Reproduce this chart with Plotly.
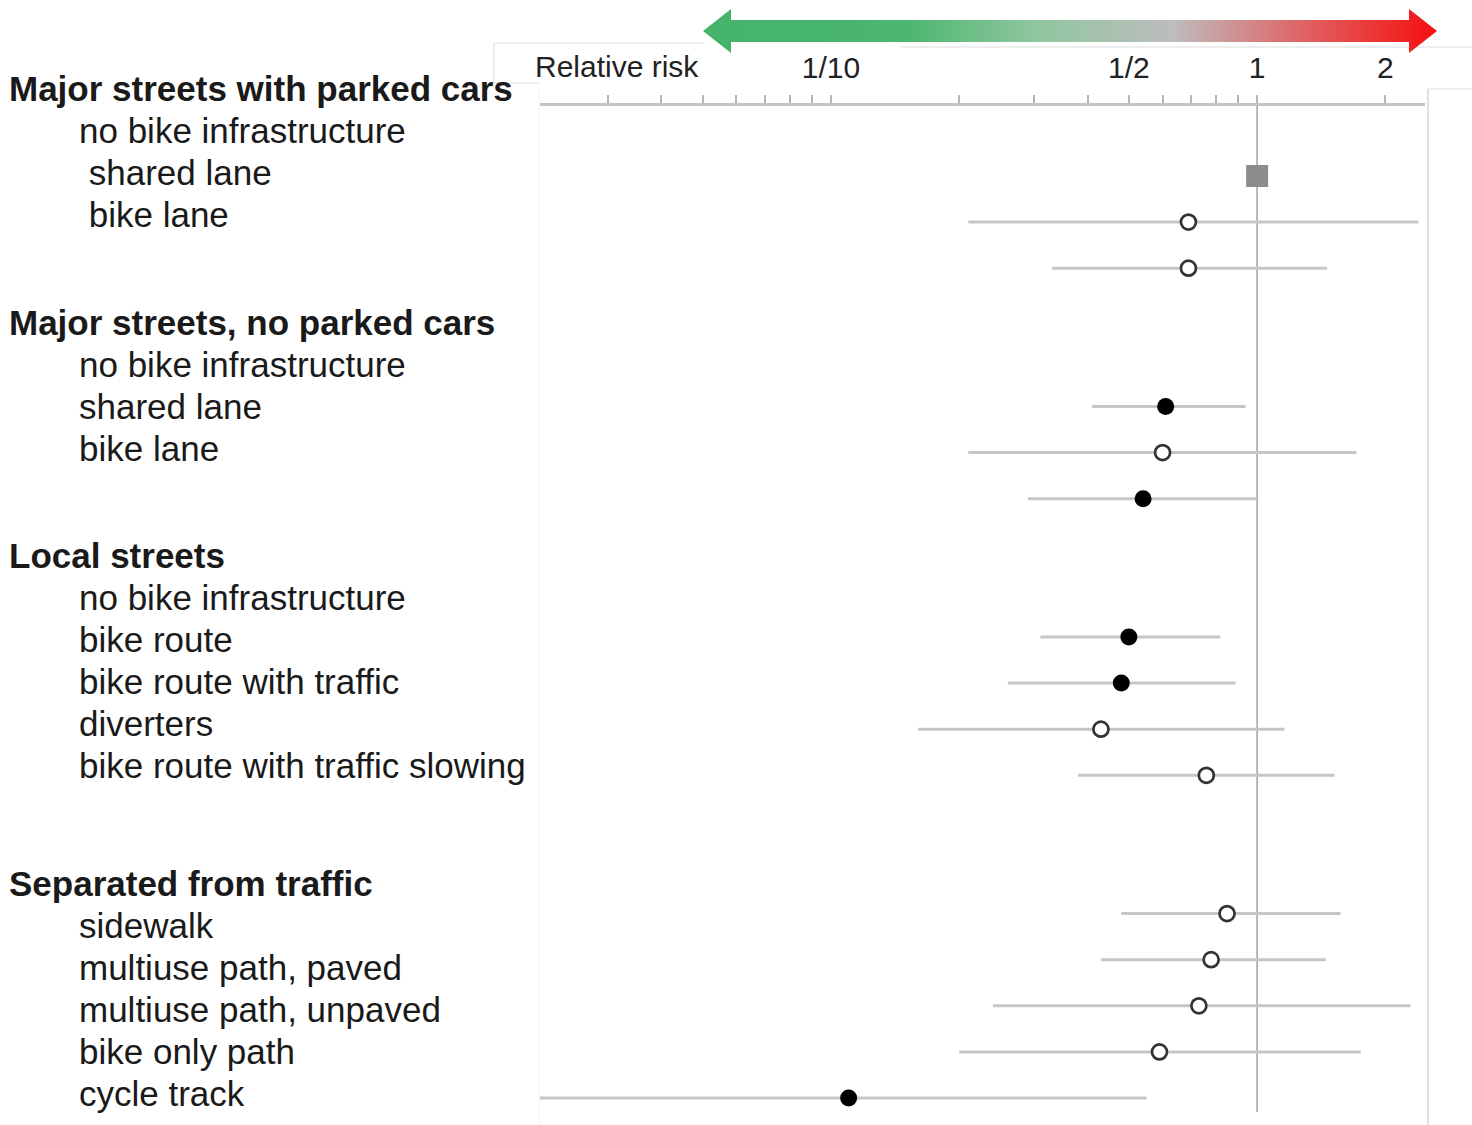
import base64
import plotly.graph_objects as go

# ---------------- data ----------------
groups = [
    "Major streets with parked cars",
    "Major streets, no parked cars",
    "Local streets",
    "Separated from traffic",
]
categories = [
    "no bike infrastructure", "shared lane", "bike lane",
    "no bike infrastructure", "shared lane", "bike lane",
    "no bike infrastructure", "bike route", "bike route with traffic diverters",
    "bike route with traffic slowing",
    "sidewalk", "multiuse path, paved", "multiuse path, unpaved", "bike only path", "cycle track",
]
category_group = [0, 0, 0, 1, 1, 1, 2, 2, 2, 2, 3, 3, 3, 3, 3]
relative_risk = [1.00, 0.69, 0.69, 0.61, 0.60, 0.54, 0.50, 0.48, 0.43, 0.76, 0.85, 0.78, 0.73, 0.59, 0.11]
ci_low = [None, 0.21, 0.33, 0.41, 0.21, 0.29, 0.31, 0.26, 0.16, 0.38, 0.48, 0.43, 0.24, 0.20, 0.02]
ci_high = [None, 2.39, 1.46, 0.94, 1.71, 1.00, 0.82, 0.89, 1.16, 1.52, 1.57, 1.45, 2.29, 1.75, 0.55]
marker_kind = ["reference", "open", "open", "filled", "open", "filled", "filled", "filled",
               "open", "open", "open", "open", "open", "open", "filled"]

# label column (as laid out in the original, one list per group)
group_label_lines = [
    ["no bike infrastructure", "\u00a0shared lane", "\u00a0bike lane"],
    ["no bike infrastructure", "shared lane", "bike lane"],
    ["no bike infrastructure", "bike route", "bike route with traffic", "diverters",
     "bike route with traffic slowing"],
    ["sidewalk", "multiuse path, paved", "multiuse path, unpaved", "bike only path", "cycle track"],
]

tick_vals = [0.03, 0.04, 0.05, 0.06, 0.07, 0.08, 0.09, 0.1, 0.2, 0.3, 0.4, 0.5,
             0.6, 0.7, 0.8, 0.9, 1, 2]
tick_text = ["", "", "", "", "", "", "", "1/10", "", "", "", "1/2", "", "", "", "", "1", "2"]
axis_title = "Relative risk"

# ---------------- layout helpers ----------------
W, H = 1472, 1125
L, R, T, B = 540, 47, 106, 10
PW, PH = W - L - R, H - T - B
ROW = 46.1
ROW0_PX = 176


def px(x):
    return (x - L) / PW


def py(y):
    return (H - B - y) / PH


# row positions from group structure (two empty rows between groups)
row_y = []
pos = 0
prev = None
for g in category_group:
    if prev is not None and g != prev:
        pos += 2
    row_y.append(pos)
    pos += 1
    prev = g

top_row = -(ROW0_PX - T) / ROW
y_range = [top_row + PH / ROW, top_row]

FONT = "Liberation Sans, Arial, sans-serif"

fig = go.Figure()

# CI lines
xs, ys = [], []
for lo, hi, y in zip(ci_low, ci_high, row_y):
    if lo is None:
        continue
    xs += [lo, hi, None]
    ys += [y, y, None]
fig.add_trace(go.Scatter(x=xs, y=ys, mode="lines",
                         line=dict(color="#c6c6c6", width=3), hoverinfo="skip"))

styles = {
    "reference": dict(symbol="square", size=22, color="#8c8c8c", line=dict(width=0)),
    "filled": dict(symbol="circle", size=17, color="#000000", line=dict(width=0)),
    "open": dict(symbol="circle", size=15, color="#ffffff", line=dict(color="#333333", width=2.7)),
}
for kind, st in styles.items():
    idx = [i for i, k in enumerate(marker_kind) if k == kind]
    fig.add_trace(go.Scatter(
        x=[relative_risk[i] for i in idx],
        y=[row_y[i] for i in idx],
        text=[categories[i] for i in idx],
        mode="markers", marker=st, hovertemplate="%{text}: %{x}<extra></extra>"))

# left labels
annotations = []
head_px = [88, 322, 555, 883]
for gi, gname in enumerate(groups):
    annotations.append(dict(text=f"<b>{gname}</b>", x=px(7), y=py(head_px[gi]),
                            xref="paper", yref="paper", xanchor="left", yanchor="middle",
                            showarrow=False, font=dict(family=FONT, size=35, color="#1a1a1a")))
    for li, line in enumerate(group_label_lines[gi]):
        annotations.append(dict(text=line, x=px(77), y=py(head_px[gi] + 42 * (li + 1)),
                                xref="paper", yref="paper", xanchor="left", yanchor="middle",
                                showarrow=False, font=dict(family=FONT, size=35, color="#1a1a1a")))

annotations.append(dict(text=axis_title, x=px(617), y=py(66), xref="paper", yref="paper",
                        xanchor="center", yanchor="middle", showarrow=False,
                        font=dict(family=FONT, size=30, color="#222222")))

# shapes: reference line at RR = 1 and faint panel borders
shapes = [dict(type="line", xref="x", yref="paper", x0=1, x1=1, y0=py(1112), y1=1,
               line=dict(color="#a0a0a0", width=1.5), layer="below")]


def pline(x0, y0, x1, y1, color="#dcdcdc", width=1):
    return dict(type="line", xref="paper", yref="paper", x0=px(x0), y0=py(y0),
                x1=px(x1), y1=py(y1), line=dict(color=color, width=width), layer="below")


shapes += [
    pline(494, 43, 705, 43),
    pline(494, 43, 494, 83),
    pline(494, 83, 539, 83),
    pline(539, 83, 539, 1125, color="#f3f3f3"),
    pline(900, 47, 1472, 47),
    pline(1428, 89, 1428, 1125, color="#d6d6d6", width=1.5),
    pline(1428, 89, 1472, 89),
]

# gradient arrow (green = lower risk, red = higher risk)
svg = (
    '<svg xmlns="http://www.w3.org/2000/svg" width="734" height="44" viewBox="0 0 734 44" '
    'preserveAspectRatio="none"><defs><linearGradient id="g" x1="0" y1="0" x2="1" y2="0">'
    '<stop offset="0" stop-color="#45b36b"/>'
    '<stop offset="0.27" stop-color="#4ab66f"/>'
    '<stop offset="0.46" stop-color="#91c6a0"/>'
    '<stop offset="0.64" stop-color="#bdbdbd"/>'
    '<stop offset="0.82" stop-color="#e06262"/>'
    '<stop offset="1" stop-color="#f50f0f"/>'
    '</linearGradient></defs>'
    '<path d="M0,22 L28,0 L28,11 L706,11 L706,0 L734,22 L706,44 L706,33 L28,33 L28,44 Z" '
    'fill="url(#g)"/></svg>'
)
src = "data:image/svg+xml;base64," + base64.b64encode(svg.encode()).decode()
images = [dict(source=src, xref="paper", yref="paper", x=px(703), y=py(9),
               sizex=734 / PW, sizey=44 / PH, xanchor="left", yanchor="top",
               sizing="stretch", layer="above")]

fig.update_layout(
    width=W, height=H,
    margin=dict(l=L, r=R, t=T, b=B, pad=0),
    paper_bgcolor="white", plot_bgcolor="white",
    showlegend=False,
    annotations=annotations, shapes=shapes, images=images,
    xaxis=dict(type="log", side="top", range=[-1.683, 0.394],
               showgrid=False, zeroline=False,
               showline=True, linecolor="#c4c4c4", linewidth=3,
               ticks="outside", ticklen=8, tickwidth=1.5, tickcolor="#b4b4b4",
               tickvals=tick_vals, ticktext=tick_text, ticklabelstandoff=5,
               tickfont=dict(family=FONT, size=30, color="#222222")),
    yaxis=dict(visible=False, range=y_range, showgrid=False, zeroline=False),
)

fig.write_html("out.html")
